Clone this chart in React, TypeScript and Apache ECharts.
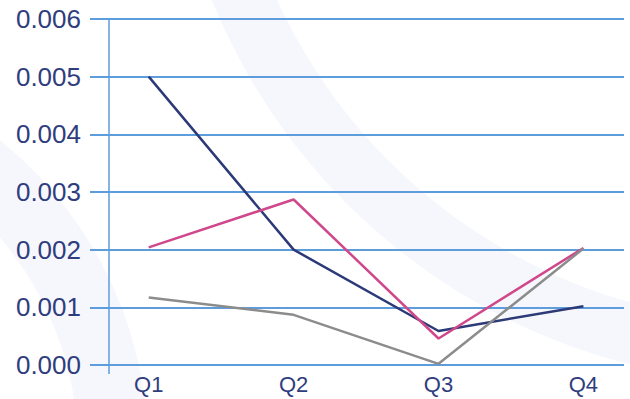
import React, { useEffect, useRef } from "react";
import * as echarts from "echarts";

// Quarterly values for the three series
const quarters = ["Q1", "Q2", "Q3", "Q4"];
const seriesNavy = [0.005, 0.002, 0.00059, 0.00102];
const seriesPink = [0.00204, 0.00287, 0.00046, 0.00203];
const seriesGray = [0.00117, 0.00087, 0.00002, 0.00202];
const yTicks = [0, 0.001, 0.002, 0.003, 0.004, 0.005, 0.006];

const AXIS_BLUE = "#5E9DDB";
const TEXT_NAVY = "#2F3D7E";
const FONT = 'Arial, "Liberation Sans", sans-serif';

// category positions sit on a value axis so the vertical axis can sit left of Q1
const X_MIN = -0.274;
const X_MAX = 3.28;

const toPoints = (vals: number[]) => vals.map((v, i) => [i, v]);

export default function App() {
  const ref = useRef<HTMLDivElement>(null);

  useEffect(() => {
    document.body.style.margin = "0";
    if (!ref.current) return;
    const chart = echarts.init(ref.current, undefined, { renderer: "svg" });

    chart.setOption({
      animation: false,
      backgroundColor: "#ffffff",
      graphic: [
        {
          type: "ring",
          silent: true,
          z: -10,
          shape: { cx: 780, cy: -230, r: 613, r0: 553 },
          style: { fill: "#F5F7FC" },
        },
        {
          type: "ring",
          silent: true,
          z: -10,
          shape: { cx: -250, cy: 450, r: 398, r0: 328 },
          style: { fill: "#F5F7FC" },
        },
      ],
      grid: { left: 109, right: 6, top: 19, bottom: 34, containLabel: false },
      xAxis: {
        type: "value",
        min: X_MIN,
        max: X_MAX,
        splitLine: { show: false },
        axisLine: { show: false },
        axisTick: {
          show: true,
          customValues: [X_MIN],
          length: 9,
          lineStyle: { color: AXIS_BLUE, width: 1.5 },
        },
        axisLabel: {
          customValues: [0, 1, 2, 3],
          formatter: (v: number) => quarters[Math.round(v)] ?? "",
          color: TEXT_NAVY,
          fontSize: 22,
          fontFamily: FONT,
          margin: 8,
        },
      },
      yAxis: {
        type: "value",
        min: yTicks[0],
        max: yTicks[yTicks.length - 1],
        interval: 0.001,
        axisLine: { show: true, onZero: false, lineStyle: { color: AXIS_BLUE, width: 1.5 } },
        axisTick: { show: true, length: 19, lineStyle: { color: AXIS_BLUE, width: 2 } },
        splitLine: { show: true, lineStyle: { color: AXIS_BLUE, width: 2 } },
        axisLabel: {
          formatter: (v: number) => v.toFixed(3),
          color: TEXT_NAVY,
          fontSize: 26,
          fontFamily: FONT,
          margin: 28,
        },
      },
      series: [
        {
          name: "Navy",
          type: "line",
          data: toPoints(seriesNavy),
          symbol: "none",
          lineStyle: { color: "#2C3A78", width: 2.5 },
        },
        {
          name: "Pink",
          type: "line",
          data: toPoints(seriesPink),
          symbol: "none",
          lineStyle: { color: "#D0488B", width: 2.5 },
        },
        {
          name: "Gray",
          type: "line",
          data: toPoints(seriesGray),
          symbol: "none",
          lineStyle: { color: "#8C8C8C", width: 2.5 },
        },
      ],
    });

    return () => chart.dispose();
  }, []);

  return <div ref={ref} style={{ width: 630, height: 399 }} />;
}
